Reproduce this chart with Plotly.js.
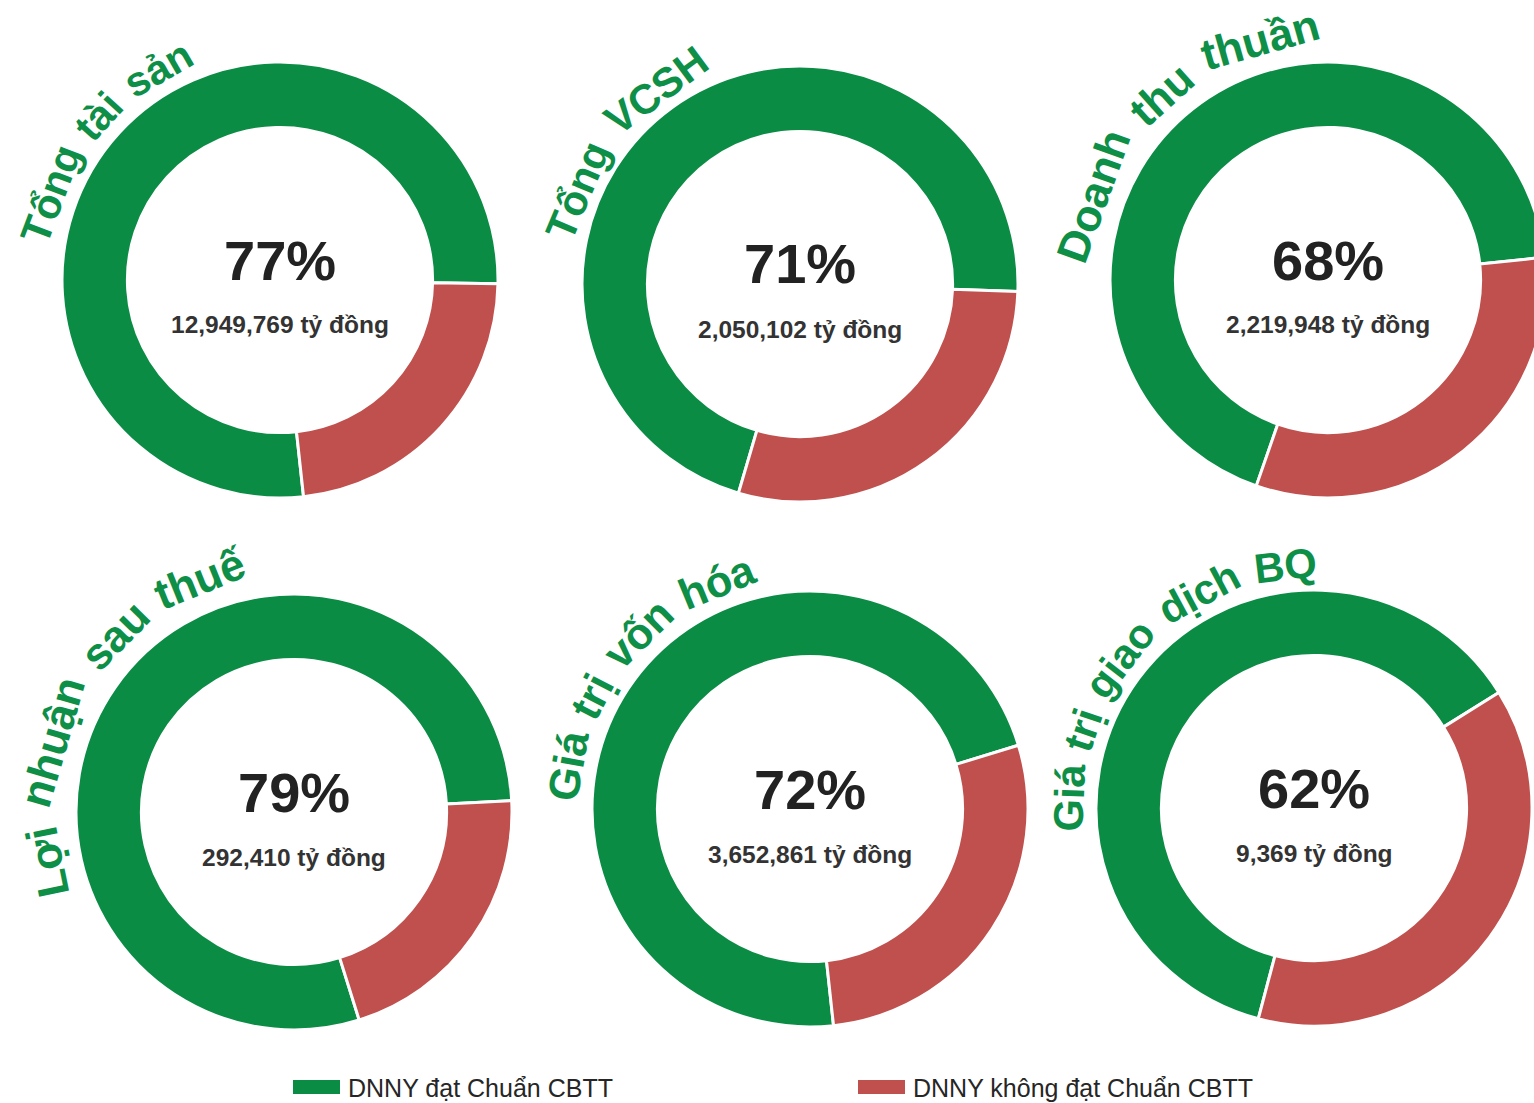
<!DOCTYPE html>
<html>
<head>
<meta charset="utf-8">
<script src="https://cdn.plot.ly/plotly-3.0.1.min.js"></script>
<style>
html,body{margin:0;padding:0;overflow:hidden;background:#ffffff;}
#chart{width:1552px;height:1103px;}
</style>
</head>
<body>
<div id="chart"></div>
<script>
// ---------------- DATA ----------------
const metrics = ['Tổng tài sản', 'Tổng VCSH', 'Doanh thu thuần', 'Lợi nhuận sau thuế', 'Giá trị vốn hóa', 'Giá trị giao dịch BQ'];
const shareMet = [77, 71, 68, 79, 72, 62];           // % DNNY đạt Chuẩn CBTT
const shareNotMet = [23, 29, 32, 21, 28, 38];        // % DNNY không đạt Chuẩn CBTT
const valueMet = [12949769, 2050102, 2219948, 292410, 3652861, 9369];
const valueUnit = 'tỷ đồng';
const seriesNames = ['DNNY đạt Chuẩn CBTT', 'DNNY không đạt Chuẩn CBTT'];

// ---------------- STYLE / LAYOUT ----------------
const W = 1552, H = 1103;
const colors = ['#0b8c45', '#c0504d'];
const titleColor = '#0d8f48';
const centers = [[280, 280], [800, 284], [1328, 280], [294, 812], [810, 809], [1314, 808]];
const R = 218;
const boundaryDeg = [91, 92, 84, 87, 73, 58];   // upper green/red boundary, degrees clockwise from 12 o'clock
const titleArc = [[172, 111, 230], [170, 112, 227], [177, 91, 234], [200, 100.6, 236], [178.5, 102.6, 230], [186, 89, 230]];
const baseSize = 42;
const FONT = '"Liberation Sans", Arial, sans-serif';

const px = x => x / W;
const py = y => 1 - y / H;

const ctx = document.createElement('canvas').getContext('2d');
ctx.font = 'bold ' + baseSize + 'px "Liberation Sans", Arial, sans-serif';

const traces = [];
const annotations = [];
const shapes = [];

metrics.forEach((name, i) => {
  const [cx, cy] = centers[i];
  const rot = boundaryDeg[i] + shareNotMet[i] * 3.6;
  traces.push({
    type: 'pie',
    labels: seriesNames,
    values: [shareMet[i], shareNotMet[i]],
    hole: 0.7,
    sort: false,
    direction: 'clockwise',
    rotation: rot > 360 ? rot - 360 : rot,
    textinfo: 'none',
    hoverinfo: 'label+percent',
    showlegend: false,
    marker: { colors: colors, line: { color: '#ffffff', width: 3 } },
    domain: { x: [px(cx - R), px(cx + R)], y: [py(cy + R), py(cy - R)] }
  });

  // centre texts
  annotations.push({
    x: px(cx), y: py(cy - 20), xref: 'paper', yref: 'paper', showarrow: false,
    xanchor: 'center', yanchor: 'middle',
    text: '<b>' + shareMet[i] + '%</b>',
    font: { family: FONT, size: 56, color: '#222222' }
  });
  annotations.push({
    x: px(cx), y: py(cy + 45), xref: 'paper', yref: 'paper', showarrow: false,
    xanchor: 'center', yanchor: 'middle',
    text: '<b>' + valueMet[i].toLocaleString('en-US') + ' ' + valueUnit + '</b>',
    font: { family: FONT, size: 24.5, color: '#333333' }
  });

  // curved title, word by word along an arc, sized to fill the arc
  const [a0, a1, rb] = titleArc[i];
  const words = name.split(' ');
  const arcLen = rb * (a0 - a1) * Math.PI / 180;
  const natural = ctx.measureText(name).width;
  const fs = Math.min(46, baseSize * arcLen / natural);
  const k = fs / baseSize;
  const widths = words.map(w => ctx.measureText(w).width * k);
  const sumW = widths.reduce((a, b) => a + b, 0);
  const gap = words.length > 1 ? (arcLen - sumW) / (words.length - 1) : 0;
  let s = 0;
  const rc = rb + 0.35 * fs;
  words.forEach((w, j) => {
    const mid = s + widths[j] / 2;
    const th = a0 - (mid / rb) * 180 / Math.PI;
    const t = th * Math.PI / 180;
    annotations.push({
      x: px(cx + rc * Math.cos(t)), y: py(cy - rc * Math.sin(t)),
      xref: 'paper', yref: 'paper', showarrow: false,
      xanchor: 'center', yanchor: 'middle',
      textangle: 90 - th,
      text: '<b>' + w + '</b>',
      font: { family: FONT, size: fs, color: titleColor }
    });
    s += widths[j] + gap;
  });
});

// legend
const legendX = [293, 858];
seriesNames.forEach((n, j) => {
  shapes.push({
    type: 'rect', xref: 'paper', yref: 'paper',
    x0: px(legendX[j]), x1: px(legendX[j] + 47), y0: py(1094), y1: py(1080),
    fillcolor: colors[j], line: { width: 0 }
  });
  annotations.push({
    x: px(legendX[j] + 53), y: py(1088), xref: 'paper', yref: 'paper', showarrow: false,
    xanchor: 'left', yanchor: 'middle',
    text: n,
    font: { family: FONT, size: 25, color: '#262626' }
  });
});

const layout = {
  width: W, height: H,
  margin: { l: 0, r: 0, t: 0, b: 0 },
  paper_bgcolor: '#ffffff',
  showlegend: false,
  annotations: annotations,
  shapes: shapes
};

Plotly.newPlot('chart', traces, layout, { displayModeBar: false, staticPlot: true });
</script>
</body>
</html>
